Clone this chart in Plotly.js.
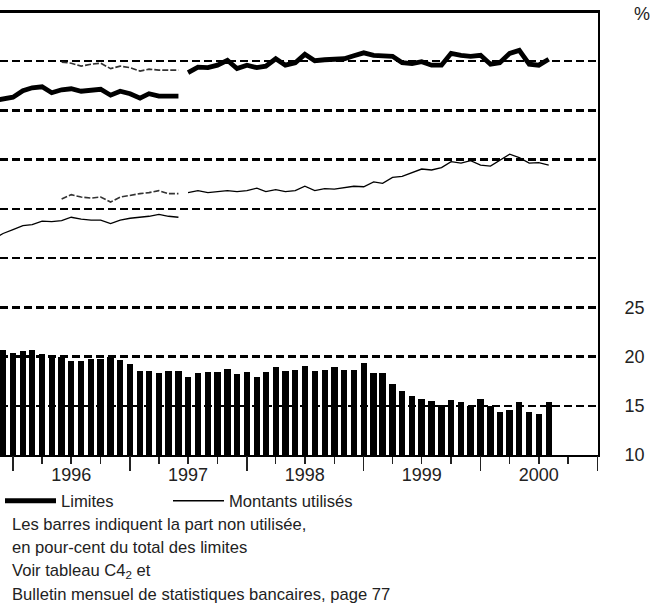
<!DOCTYPE html>
<html><head><meta charset="utf-8">
<script src="https://cdn.plot.ly/plotly-3.0.1.min.js"></script>
<style>html,body{margin:0;padding:0;background:#fff}</style>
</head><body><div id="chart" style="width:661px;height:616px"></div>
<script>
// ---- data ----
// monthly bars: unused share of limits, in % (Dec 1995 .. Aug 2000)
const barStart = [1995, 12];
const unusedPct = [20.7, 20.4, 20.6, 20.7, 20.3, 20.0, 20.0, 19.5, 19.5, 19.8, 19.8, 20.0,
  19.6, 19.2, 18.5, 18.5, 18.3, 18.5, 18.5, 17.9, 18.3, 18.4, 18.4, 18.7,
  18.2, 18.4, 17.9, 18.4, 18.9, 18.5, 18.6, 19.0, 18.5, 18.6, 18.9, 18.6,
  18.6, 19.3, 18.3, 18.3, 17.2, 16.5, 16.0, 15.7, 15.5, 15.1, 15.6, 15.4,
  15.0, 15.7, 15.0, 14.4, 14.6, 15.4, 14.4, 14.2, 15.4];
// lines (left axis, not visible in the crop): old series Nov 1995 .. Jun 1997
const oldStart = [1995, 11];
const limitsOld = [72.0, 72.4, 72.7, 74.0, 74.6, 74.8, 73.6, 74.2, 74.4, 73.9, 74.1, 74.3,
  73.1, 73.9, 73.4, 72.5, 73.4, 72.9, 72.9, 72.9];
const usedOld = [43.9, 45.0, 45.8, 46.6, 46.8, 47.5, 47.4, 47.6, 48.3, 47.9, 47.7, 47.7,
  47.0, 47.7, 48.1, 48.3, 48.5, 48.9, 48.5, 48.3];
// overlap (new definition) Jun 1996 .. Jun 1997
const overlapStart = [1996, 6];
const limitsOverlap = [79.8, 79.6, 79.0, 79.4, 79.6, 78.5, 79.0, 78.7, 78.0, 78.4, 78.2, 78.2, 78.2];
const usedOverlap = [52.0, 52.9, 52.4, 52.2, 52.4, 51.4, 52.4, 52.8, 53.1, 53.3, 53.7, 53.1, 53.1];
// new series Jul 1997 .. Aug 2000
const newStart = [1997, 7];
const limitsNew = [77.7, 78.8, 78.7, 79.2, 80.2, 78.5, 79.2, 78.7, 79.0, 80.5, 79.2, 79.7,
  81.4, 80.1, 80.3, 80.5, 80.5, 81.1, 81.7, 81.2, 81.2, 81.0, 79.7, 79.5,
  79.9, 79.2, 79.2, 81.6, 81.2, 81.0, 81.2, 79.4, 79.7, 81.6, 82.2, 79.4, 79.2, 80.4];
const usedNew = [53.3, 53.7, 53.3, 53.5, 53.7, 53.5, 53.7, 54.2, 53.5, 53.9, 53.5, 53.7,
  54.6, 53.7, 54.1, 54.0, 54.3, 54.6, 54.5, 55.5, 55.2, 56.4, 56.6, 57.4,
  58.1, 57.9, 58.4, 59.6, 59.3, 59.8, 58.9, 58.7, 59.9, 61.1, 60.4, 59.3, 59.4, 58.9];
const yearLabels = ['1996', '1997', '1998', '1999', '2000'];
const rightTickVals = [10, 15, 20, 25, 30, 35, 40, 45, 50];
const rightTickText = ['10', '15', '20', '25', '', '', '', '', ''];
const legendNames = ['Limites', 'Montants utilisés'];
const noteLines = ['Les barres indiquent la part non utilisée,',
  'en pour-cent du total des limites',
  'Voir tableau C4<sub>2</sub> et',
  'Bulletin mensuel de statistiques bancaires, page 77'];

// ---- helpers ----
function months(start, n) {
  const out = [];
  for (let i = 0; i < n; i++) {
    const t = start[1] - 1 + i;
    const y = start[0] + Math.floor(t / 12);
    const m = t % 12 + 1;
    out.push(y + '-' + String(m).padStart(2, '0') + '-01');
  }
  return out;
}
const quarterTicks = [], quarterText = [];
for (let y = 1996; y <= 2001; y++) {
  for (const m of ['01', '04', '07', '10']) {
    if (y === 2001 && m !== '01') continue;
    quarterTicks.push(y + '-' + m + '-01');
    quarterText.push(m === '07' ? yearLabels[y - 1996] : '');
  }
}
const yearTicks = ['1996', '1997', '1998', '1999', '2000', '2001'].map(y => y + '-01-01');

const FONT = 'Liberation Sans, Arial, sans-serif';
const TXT = '#222';
const DAY = 86400000;

const traces = [
  { type: 'bar', x: months(barStart, unusedPct.length), y: unusedPct, width: 20 * DAY,
    marker: { color: '#000', line: { width: 0 } }, showlegend: false, hoverinfo: 'skip' },
  { type: 'scatter', mode: 'lines', xaxis: 'x2', yaxis: 'y2', name: legendNames[0], legend: 'legend',
    x: months(newStart, limitsNew.length), y: limitsNew, line: { color: '#000', width: 4.8 } },
  { type: 'scatter', mode: 'lines', xaxis: 'x2', yaxis: 'y2', name: legendNames[1], legend: 'legend2',
    x: months(newStart, usedNew.length), y: usedNew, line: { color: '#000', width: 1.3 } },
  { type: 'scatter', mode: 'lines', xaxis: 'x2', yaxis: 'y2', showlegend: false,
    x: months(oldStart, limitsOld.length), y: limitsOld, line: { color: '#000', width: 4.8 } },
  { type: 'scatter', mode: 'lines', xaxis: 'x2', yaxis: 'y2', showlegend: false,
    x: months(oldStart, usedOld.length), y: usedOld, line: { color: '#000', width: 1.3 } },
  { type: 'scatter', mode: 'lines', xaxis: 'x2', yaxis: 'y2', showlegend: false,
    x: months(overlapStart, limitsOverlap.length), y: limitsOverlap, line: { color: '#333', width: 1.6, dash: '6px,2px' } },
  { type: 'scatter', mode: 'lines', xaxis: 'x2', yaxis: 'y2', showlegend: false,
    x: months(overlapStart, usedOverlap.length), y: usedOverlap, line: { color: '#333', width: 1.6, dash: '6px,2px' } }
];

const xRange = ['1995-11-21 10:00', '2001-01-02'];
const noteY = [-0.1567, -0.2086, -0.2619, -0.3147];
const legendBase = {
  orientation: 'h', xanchor: 'left', y: -0.1038, yanchor: 'middle',
  font: { family: FONT, size: 16.6, color: TXT }, itemwidth: 51,
  bgcolor: 'rgba(0,0,0,0)', borderwidth: 0
};

const layout = {
  width: 661, height: 616,
  margin: { l: 0, r: 63, t: 12, b: 161, pad: 0 },
  paper_bgcolor: '#fff', plot_bgcolor: '#fff',
  font: { family: FONT, color: TXT, size: 16 },
  bargap: 0,
  xaxis: {
    type: 'date', range: xRange, tickmode: 'array', tickvals: quarterTicks, ticktext: quarterText,
    ticks: 'outside', ticklen: 7, tickwidth: 1.5, tickcolor: '#222', ticklabelstandoff: -5,
    showline: true, linecolor: '#000', linewidth: 2, mirror: true,
    showgrid: false, zeroline: false, tickfont: { size: 18, color: TXT, family: FONT }
  },
  xaxis2: {
    type: 'date', overlaying: 'x', matches: 'x', anchor: 'y2', side: 'bottom',
    tickmode: 'array', tickvals: yearTicks, ticks: 'outside', ticklen: 15, tickwidth: 1.5,
    tickcolor: '#222', showticklabels: false, showline: false, showgrid: false, zeroline: false
  },
  yaxis: {
    range: [10, 55], side: 'right', tickmode: 'array', tickvals: rightTickVals, ticktext: rightTickText,
    ticks: 'outside', ticklen: 21, tickcolor: 'rgba(0,0,0,0)',
    showline: true, linecolor: '#000', linewidth: 2,
    showgrid: true, gridcolor: '#000', gridwidth: 2.5, griddash: '8px,4px', zeroline: false,
    tickfont: { size: 18, color: TXT, family: FONT }
  },
  yaxis2: {
    range: [0, 90], overlaying: 'y', anchor: 'x2', side: 'left', visible: false,
    showgrid: false, zeroline: false
  },
  showlegend: true,
  legend: Object.assign({ x: 0.0 }, legendBase),
  legend2: Object.assign({ x: 168 / 598 }, legendBase),
  shapes: [
    { type: 'line', xref: 'paper', yref: 'paper', x0: 0, x1: 1, y0: 1, y1: 1,
      line: { color: '#000', width: 2 } }
  ],
  annotations: [
    { text: '%', xref: 'paper', yref: 'paper', x: 632 / 598, y: 0.9944, xanchor: 'left', yanchor: 'middle',
      showarrow: false, font: { size: 18, color: TXT, family: FONT } }
  ].concat(noteLines.map((t, i) => ({
    text: t, xref: 'paper', yref: 'paper', x: 10 / 598, y: noteY[i], xanchor: 'left', yanchor: 'middle',
    showarrow: false, align: 'left', font: { size: 16.6, color: TXT, family: FONT }
  })))
};

Plotly.newPlot('chart', traces, layout, { displayModeBar: false, staticPlot: true });
</script>
</body></html>
